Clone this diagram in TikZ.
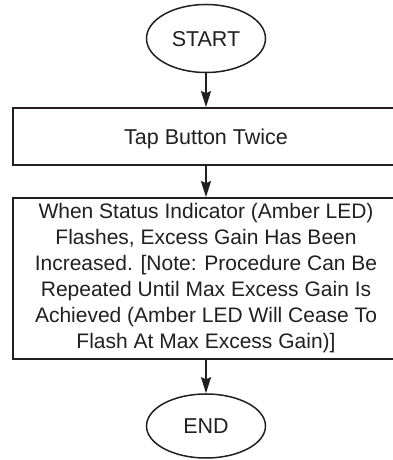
\documentclass[tikz,border=0pt]{standalone}
\usepackage{fontspec}
\setmainfont{Liberation Sans}
\usetikzlibrary{shapes.geometric,arrows.meta}
\definecolor{ink}{HTML}{231F20}
\begin{document}
\begin{tikzpicture}[x=1pt,y=1pt,
  every node/.style={text=ink, font=\fontsize{21.5}{26}\selectfont},
  term/.style={ellipse, draw=ink, line width=1.5pt, inner sep=0pt, minimum width=119pt, minimum height=68pt},
  procbox/.style={rectangle, draw=ink, line width=1.8pt, minimum width=386pt, inner sep=0pt, align=center},
  arr/.style={draw=ink, line width=1.5pt, -{Stealth[length=16pt,width=10pt,inset=2pt]}}]
\useasboundingbox (0,0) rectangle (392,460);
\node[term, text height=15.4pt, text depth=0pt] (start) at (206,421.5) {START};
\node[procbox, minimum height=57pt, text height=15.4pt, text depth=0pt] (tap) at (206,323.5) {Tap Button Twice};
\node[procbox, minimum height=161pt, font=\fontsize{21}{26}\selectfont] (note) at (206,181.5) {When Status Indicator (Amber LED)\\Flashes, Excess Gain Has Been\\Increased. [Note: Procedure Can Be\\Repeated Until Max Excess Gain Is\\Achieved (Amber LED Will Cease To\\Flash At Max Excess Gain)]};
\node[term, minimum height=64pt, text height=15.4pt, text depth=0pt] (end) at (206,34) {END};
\draw[arr] (start) -- (tap);
\draw[arr] (tap) -- (note);
\draw[arr] (note) -- (end);
\end{tikzpicture}
\end{document}
